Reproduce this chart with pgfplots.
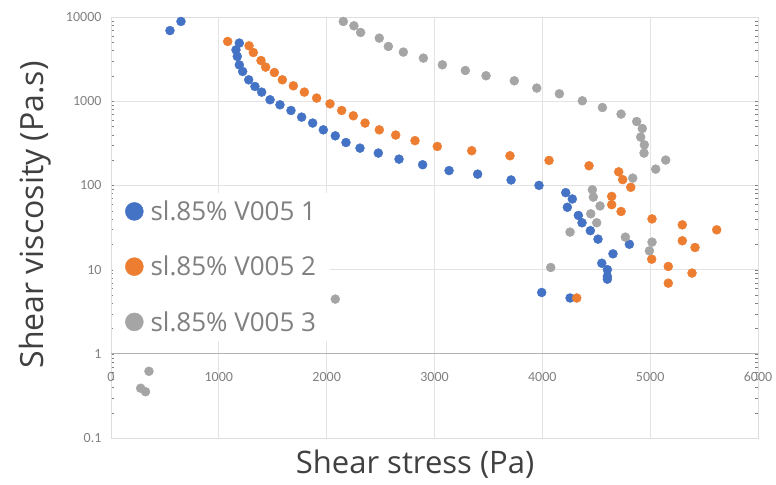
\documentclass[border=0pt]{standalone}
\usepackage{fontspec}
\setmainfont{Open Sans}
\newfontfamily\tickfont{Carlito}
\usepackage{pgfplots}
\pgfplotsset{compat=1.18}
\usetikzlibrary{calc}
\definecolor{sblue}{HTML}{4472C4}
\definecolor{sorange}{HTML}{ED7D31}
\definecolor{sgray}{HTML}{A5A5A5}

\pgfplotstableread{
x y
547 6900
649 8850
1190 4900
1159 4070
1171 3400
1190 2700
1221 2255
1277 1795
1335 1496
1397 1282
1475 1040
1567 906
1669 776
1768 647
1870 550
1969 457
2080 388
2179 323
2309 277
2479 242
2671 205
2890 176
3135 150
3400 136
3710 116
3969 100
4217 82
4278 69
4232 55
4334 44
4368 36
4445 29
4516 23
4807 20
4655 15.4
4551 11.9
4603 10
4603 8.3
4603 7.7
3994 5.35
4257 4.6
}\seriesone

\pgfplotstableread{
x y
1082 5120
1280 4550
1320 3785
1391 3040
1434 2540
1515 2190
1589 1795
1691 1523
1793 1282
1907 1089
2031 931
2139 776
2247 671
2356 550
2488 457
2640 396
2819 340
3026 290
3345 258
3700 225
4062 198
4433 171
4708 145
4745 117
4820 95
4643 74
4643 59
4730 49
5017 40
5298 34
5617 29.7
5298 22
5416 18.3
5014 13.3
5168 10.9
5388 9.1
5168 6.9
4319 4.6
}\seriestwo

\pgfplotstableread{
x y
2154 8850
2253 7860
2315 6550
2488 5610
2572 4470
2711 3830
2897 3250
3073 2705
3286 2315
3478 2005
3740 1747
3948 1432
4158 1225
4371 1011
4557 841
4730 703
4875 574
4927 474
4912 375
4946 303
4943 242
5144 200
5051 156
4838 122
4464 88.7
4473 72.6
4535 57
4449 46
4504 36
4257 27.9
4770 24.3
5017 21.2
4993 16.7
4078 10.6
2080 4.46
352 0.62
275 0.39
320 0.355
}\seriesthree

\begin{document}
\begin{tikzpicture}
\begin{axis}[
    scale only axis,
    width=647pt, height=421pt,
    xmin=0, xmax=6000,
    ymode=log, ymin=0.1, ymax=10000,
    xtick={0,1000,2000,3000,4000,5000,6000},
    xticklabels={0,1000,2000,3000,4000,5000,6000},
    ytick={0.1,1,10,100,1000,10000},
    yticklabels={0.1,1,10,100,1000,10000},
    extra y ticks={1}, extra y tick labels={},
    extra y tick style={grid style={draw=black!30, line width=1pt}},
    grid=major,
    grid style={draw=black!11, line width=0.8pt},
    axis line style={draw=black!13, line width=0.8pt},
    major tick length=0pt,
    tick label style={font=\tickfont\fontsize{14}{16}\selectfont, text=black!50},
    /pgf/number format/assume math mode=true,
    xticklabel style={yshift=69pt},
    yticklabel style={xshift=-6pt},
    xlabel={Shear stress (Pa)},
    ylabel={Shear viscosity (Pa.s)},
    label style={font=\fontsize{31}{36}\selectfont, text=black!75},
    xlabel style={at={(axis description cs:0.47,0)}, anchor=center, yshift=-26pt},
    ylabel style={at={(axis description cs:-0.1175,0.53)}, anchor=center, font=\fontsize{32}{36}\selectfont},
    legend style={at={(axis description cs:0.003,0.583)}, anchor=north west,
        fill=white, draw=none, font=\fontsize{26}{30}\selectfont, text=black!50,
        row sep=30pt, inner xsep=12pt, inner ysep=6pt,
        /tikz/every odd column/.append style={column sep=5pt}},
    legend cell align=left,
    legend image code/.code={\fill[#1] (9pt,0pt) circle (9pt);},
    every axis plot/.append style={only marks, mark=*, mark size=4.5pt, mark options={draw=none}},
    clip=false,
]
\addplot[sblue, fill=sblue] table {\seriesone};
\addlegendentry{sl.85\% V005 1}
\addplot[sorange, fill=sorange] table {\seriestwo};
\addlegendentry{sl.85\% V005 2}
\addplot[sgray, fill=sgray] table {\seriesthree};
\addlegendentry{sl.85\% V005 3}
\coordinate (sw) at (rel axis cs:0,0);
\coordinate (ne) at (rel axis cs:1,1);
\end{axis}
\pgfresetboundingbox
\path ($(sw)+(-111pt,-46pt)$) rectangle ($(ne)+(18pt,17pt)$);
\end{tikzpicture}
\end{document}
